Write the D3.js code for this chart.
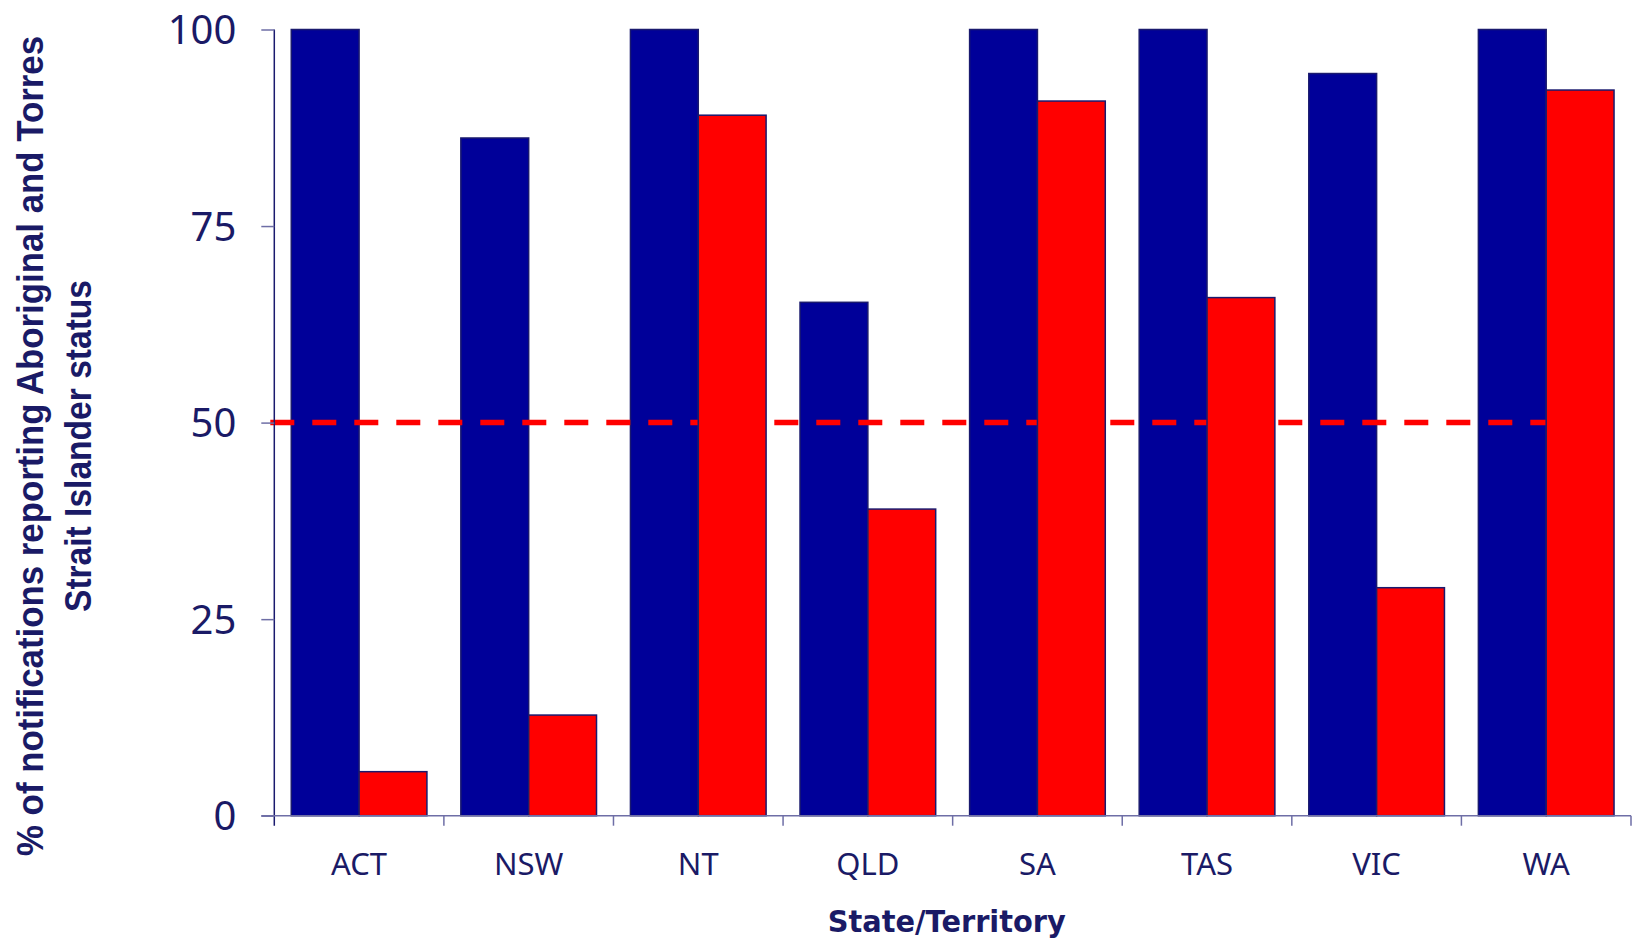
<!DOCTYPE html>
<html>
<head>
<meta charset="utf-8">
<script src="https://cdn.jsdelivr.net/npm/d3@7"></script>
<style>
  html, body { margin: 0; padding: 0; background: #ffffff; }
  svg { display: block; }
</style>
</head>
<body>
<script>
// ---- Data ----
const categories = ["ACT", "NSW", "NT", "QLD", "SA", "TAS", "VIC", "WA"];
const seriesNames = ["Series 1", "Series 2"];
const series1Values = [100, 86.2, 100, 65.3, 100, 100, 94.4, 100];
const series2Values = [5.6, 12.8, 89.1, 39.0, 90.9, 65.9, 29.0, 92.3];
const yTickValues = [0, 25, 50, 75, 100];
const referenceValue = 50;
const xTitle = "State/Territory";
const yTitleLines = ["% of notifications reporting Aboriginal and Torres", "Strait Islander status"];

// ---- Layout ----
const W = 1635, H = 944;
const plotLeft = 274.3, plotRight = 1631, plotTop = 29.5, plotBottom = 815.7;
const textColor = "#1a1a66";
const axisColor = "#1a1a6e";
const tickColor = "#6e6ea6";
const blue = "#000099";
const red = "#ff0000";

const svg = d3.select("body").append("svg").attr("width", W).attr("height", H);

const y = d3.scaleLinear().domain([0, 100]).range([plotBottom, plotTop]);
const x0 = d3.scaleBand().domain(categories).range([plotLeft, plotRight]).padding(0);
const x1 = d3.scaleBand().domain(seriesNames)
  .range([x0.bandwidth() * 0.1, x0.bandwidth() * 0.9]).padding(0);

const rows = categories.map((c, i) => ({ cat: c, v1: series1Values[i], v2: series2Values[i] }));

// Blue bars
svg.append("g").selectAll("rect").data(rows).join("rect")
  .attr("x", d => x0(d.cat) + x1(seriesNames[0]))
  .attr("y", d => y(d.v1))
  .attr("width", x1.bandwidth())
  .attr("height", d => y(0) - y(d.v1))
  .attr("fill", blue)
  .attr("stroke", axisColor)
  .attr("stroke-width", 1.5);

// Dashed reference line (between the two bar layers)
const lastCat = categories[categories.length - 1];
svg.append("line")
  .attr("x1", plotLeft - 4)
  .attr("x2", x0(lastCat) + x1(seriesNames[1]) + x1.bandwidth())
  .attr("y1", y(referenceValue)).attr("y2", y(referenceValue))
  .attr("stroke", red)
  .attr("stroke-width", 5.5)
  .attr("stroke-dasharray", "24,18");

// Red bars
svg.append("g").selectAll("rect").data(rows).join("rect")
  .attr("x", d => x0(d.cat) + x1(seriesNames[1]))
  .attr("y", d => y(d.v2))
  .attr("width", x1.bandwidth())
  .attr("height", d => y(0) - y(d.v2))
  .attr("fill", red)
  .attr("stroke", axisColor)
  .attr("stroke-width", 1.5);

// Y axis
const yAxis = svg.append("g")
  .attr("transform", `translate(${plotLeft},0)`)
  .call(d3.axisLeft(y).tickValues(yTickValues).tickSize(13).tickSizeOuter(0).tickPadding(25));
yAxis.select(".domain").attr("stroke", axisColor).attr("stroke-width", 1.5)
  .attr("d", `M0,${plotTop}V${plotBottom + 10}`);
yAxis.selectAll(".tick line").attr("stroke", tickColor).attr("stroke-width", 1.5);
yAxis.selectAll(".tick text")
  .attr("fill", textColor)
  .attr("font-family", "'Noto Sans', 'DejaVu Sans', sans-serif")
  .attr("font-size", 40)
  .attr("dy", null)
  .attr("y", 14);

// X axis line and ticks at band boundaries
const boundaries = categories.map(c => x0(c)).concat([x0.range()[1]]);
svg.append("line")
  .attr("x1", plotLeft - 13).attr("x2", plotRight)
  .attr("y1", plotBottom).attr("y2", plotBottom)
  .attr("stroke", tickColor).attr("stroke-width", 1.5);
svg.append("g").selectAll("line").data(boundaries.slice(1)).join("line")
  .attr("x1", d => d).attr("x2", d => d)
  .attr("y1", plotBottom).attr("y2", plotBottom + 10)
  .attr("stroke", tickColor).attr("stroke-width", 1.5);

// X labels
svg.append("g").selectAll("text").data(categories).join("text")
  .attr("x", d => x0(d) + x0.bandwidth() / 2)
  .attr("y", plotBottom + 59)
  .attr("text-anchor", "middle")
  .attr("fill", textColor)
  .attr("font-family", "'Noto Sans', 'DejaVu Sans', sans-serif")
  .attr("font-size", 31)
  .text(d => d);

// X title
svg.append("text")
  .attr("x", (274.3 + 1619.3) / 2)
  .attr("y", 932)
  .attr("text-anchor", "middle")
  .attr("fill", textColor)
  .attr("font-family", "'DejaVu Sans', sans-serif")
  .attr("font-weight", "bold")
  .attr("font-size", 31)
  .attr("textLength", 238)
  .attr("lengthAdjust", "spacingAndGlyphs")
  .text(xTitle);

// Y title (two lines, rotated)
const yTitleCfg = [
  { text: yTitleLines[0], x: 43, len: 820 },
  { text: yTitleLines[1], x: 91, len: 332 }
];
svg.append("g").selectAll("text").data(yTitleCfg).join("text")
  .attr("transform", d => `translate(${d.x},446) rotate(-90)`)
  .attr("text-anchor", "middle")
  .attr("fill", textColor)
  .attr("font-family", "'Liberation Sans', Arial, sans-serif")
  .attr("font-weight", "bold")
  .attr("font-size", 36)
  .attr("textLength", d => d.len)
  .attr("lengthAdjust", "spacingAndGlyphs")
  .text(d => d.text);
</script>
</body>
</html>
